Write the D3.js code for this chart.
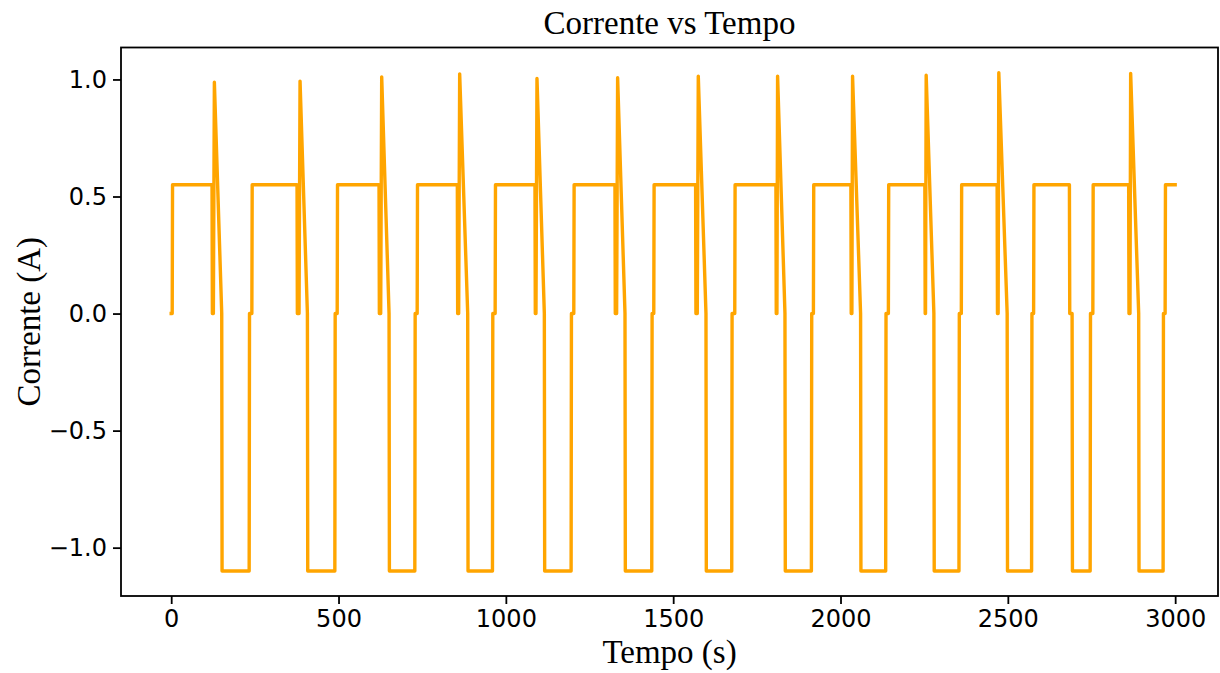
<!DOCTYPE html>
<html>
<head>
<meta charset="utf-8">
<script src="https://cdn.jsdelivr.net/npm/d3@7"></script>
<style>
  body { margin: 0; background: #ffffff; }
  .tick text { font-family: 'DejaVu Sans', sans-serif; }
  .graphTitle { font-family: 'Liberation Serif', 'DejaVu Serif', serif; }
</style>
</head>
<body>
<div id="chart"></div>
<script>
// Tempo (s) e corrente (A)
const tempo = [
  0, 3, 4,
  122, 123, 126, 129, 151, 152, 233, 234, 241, 242,
  376, 377, 382, 385, 407, 408, 489, 490, 496, 497,
  621, 622, 626, 629, 651, 652, 728, 729, 735, 736,
  855, 856, 859, 862, 886, 887, 960, 961, 968, 969,
  1087, 1088, 1090, 1093, 1115, 1116, 1195, 1196, 1203, 1204,
  1326, 1327, 1331, 1334, 1356, 1357, 1436, 1437, 1442, 1443,
  1567, 1568, 1572, 1575, 1598, 1599, 1675, 1676, 1684, 1685,
  1807, 1808, 1810, 1812, 1834, 1835, 1913, 1914, 1919, 1920,
  2031, 2032, 2034, 2036, 2060, 2061, 2135, 2136, 2143, 2144,
  2252, 2253, 2254, 2256, 2279, 2280, 2354, 2355, 2361, 2362,
  2468, 2469, 2471, 2473, 2498, 2499, 2571, 2572, 2577, 2578,
  2684, 2685, 2692, 2693, 2746, 2747, 2754, 2755,
  2861, 2862, 2865, 2867, 2891, 2892, 2964, 2965, 2970, 2971,
  3000
];
const corrente = [
  0, 0, 0.55,
  0.55, 0, 0, 0.988, 0, -1.1, -1.1, 0, 0, 0.55,
  0.55, 0, 0, 0.993, 0, -1.1, -1.1, 0, 0, 0.55,
  0.55, 0, 0, 1.011, 0, -1.1, -1.1, 0, 0, 0.55,
  0.55, 0, 0, 1.024, 0, -1.1, -1.1, 0, 0, 0.55,
  0.55, 0, 0, 1.004, 0, -1.1, -1.1, 0, 0, 0.55,
  0.55, 0, 0, 1.007, 0, -1.1, -1.1, 0, 0, 0.55,
  0.55, 0, 0, 1.014, 0, -1.1, -1.1, 0, 0, 0.55,
  0.55, 0, 0, 1.014, 0, -1.1, -1.1, 0, 0, 0.55,
  0.55, 0, 0, 1.014, 0, -1.1, -1.1, 0, 0, 0.55,
  0.55, 0, 0, 1.018, 0, -1.1, -1.1, 0, 0, 0.55,
  0.55, 0, 0, 1.029, 0, -1.1, -1.1, 0, 0, 0.55,
  0.55, 0, 0, -1.1, -1.1, 0, 0, 0.55,
  0.55, 0, 0, 1.026, 0, -1.1, -1.1, 0, 0, 0.55,
  0.55
];
const xTicks = [0, 500, 1000, 1500, 2000, 2500, 3000];
const yTicks = [-1.0, -0.5, 0.0, 0.5, 1.0];
const xDomain = [-150, 3128];
const yDomain = [-1.2065, 1.1365];

function CorrenteGraph(divID, optionsUser = {}) {
  let widthContainer  = 1220;
  let heightContainer = 673;
  let margin          = {top: 47.5, left: 121, right: 2, bottom: 77};
  let title           = 'Corrente vs Tempo';
  let xLabel          = 'Tempo (s)';
  let yLabel          = 'Corrente (A)';
  const lineColor     = '#ffa500';

  if (optionsUser.width  !== undefined) widthContainer  = optionsUser.width;
  if (optionsUser.height !== undefined) heightContainer = optionsUser.height;

  d3.select('#' + divID).selectAll('svg').remove();

  let svg = d3.select('#' + divID)
    .append('svg')
    .attr('width',  widthContainer)
    .attr('height', heightContainer)
    .style('display', 'block');

  let xScale = d3.scaleLinear()
    .domain(xDomain)
    .range([margin.left, widthContainer - margin.right]);

  let yScale = d3.scaleLinear()
    .domain(yDomain)
    .range([heightContainer - margin.bottom, margin.top]);

  let data = tempo.map((t, i) => ({t: t, v: corrente[i]}));

  // data line
  let line = d3.line()
    .x(d => xScale(d.t))
    .y(d => yScale(d.v));

  svg.append('path')
    .datum(data)
    .attr('fill', 'none')
    .attr('stroke', lineColor)
    .attr('stroke-width', 3.4)
    .attr('stroke-linejoin', 'round')
    .attr('stroke-linecap', 'square')
    .attr('d', line);

  // x-axis
  let xAxis = svg.append('g')
    .attr('class', 'x-axis')
    .attr('transform', `translate(0, ${heightContainer - margin.bottom})`)
    .call(d3.axisBottom(xScale).tickValues(xTicks).tickSize(8).tickPadding(6).tickFormat(d3.format('d')));
  xAxis.select('.domain').remove();

  // y-axis
  let yAxis = svg.append('g')
    .attr('class', 'y-axis')
    .attr('transform', `translate(${margin.left}, 0)`)
    .call(d3.axisLeft(yScale).tickValues(yTicks).tickSize(8).tickPadding(6).tickFormat(d3.format('.1f')));
  yAxis.select('.domain').remove();

  svg.selectAll('.tick line').attr('stroke', '#000').attr('stroke-width', 1.8);
  svg.selectAll('.tick text').style('font-size', '24px').attr('fill', '#000');

  // spines
  svg.append('rect')
    .attr('x', margin.left)
    .attr('y', margin.top)
    .attr('width',  widthContainer - margin.left - margin.right)
    .attr('height', heightContainer - margin.top - margin.bottom)
    .attr('fill', 'none')
    .attr('stroke', '#000')
    .attr('stroke-width', 1.8);

  let centerX = (margin.left + widthContainer - margin.right) / 2;
  let centerY = (margin.top + heightContainer - margin.bottom) / 2;

  svg.append('text')
    .attr('class', 'graphTitle')
    .attr('x', centerX)
    .attr('y', 34)
    .style('text-anchor', 'middle')
    .style('font-size', '33px')
    .text(title);

  svg.append('text')
    .attr('class', 'graphTitle')
    .attr('x', centerX)
    .attr('y', 663)
    .style('text-anchor', 'middle')
    .style('font-size', '33px')
    .text(xLabel);

  svg.append('text')
    .attr('class', 'graphTitle')
    .attr('transform', `translate(40, ${centerY}) rotate(-90)`)
    .style('text-anchor', 'middle')
    .style('font-size', '33px')
    .text(yLabel);
}

CorrenteGraph('chart');
</script>
</body>
</html>
